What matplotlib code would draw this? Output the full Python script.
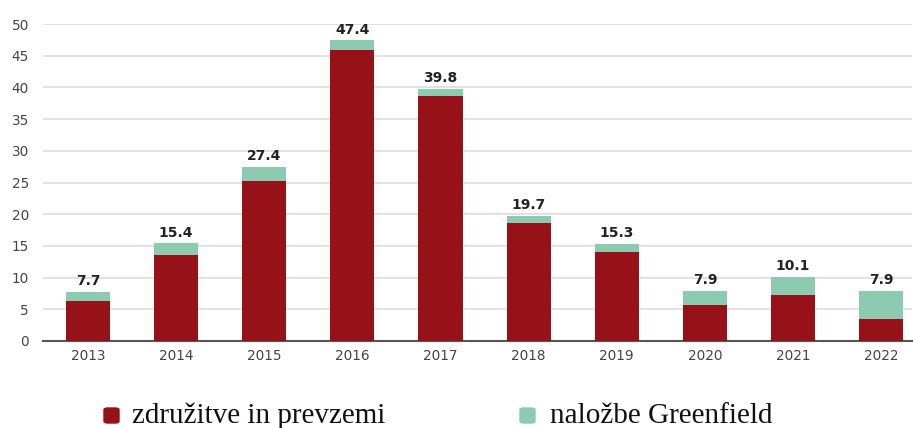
import numpy as np
import matplotlib
matplotlib.use("Agg")
import matplotlib.pyplot as plt
from matplotlib.patches import FancyBboxPatch

years = ["2013", "2014", "2015", "2016", "2017", "2018", "2019", "2020", "2021", "2022"]
totals = [7.7, 15.4, 27.4, 47.4, 39.8, 19.7, 15.3, 7.9, 10.1, 7.9]
mna = [6.3, 13.5, 25.3, 45.9, 38.7, 18.6, 14.1, 5.7, 7.2, 3.4]
greenfield = [round(t - m, 1) for t, m in zip(totals, mna)]

red = "#961218"
green = "#8ccbaf"

fig = plt.figure(figsize=(9.13, 4.28), dpi=100)
ax = fig.add_axes([43 / 913, 1 - 341 / 428, (912 - 43) / 913, (341 - 24) / 428])

x = np.arange(len(years))
ax.bar(x, mna, width=0.5, color=red, zorder=3)
ax.bar(x, greenfield, width=0.5, bottom=mna, color=green, zorder=3)

for xi, t in zip(x, totals):
    ax.text(xi, t + 0.6, f"{t:.1f}", ha="center", va="bottom",
            fontsize=10, fontweight="bold", color="#222222")

ax.set_xlim(-0.51, 9.35)
ax.set_ylim(0, 50)
ax.set_yticks(range(0, 51, 5))
ax.set_xticks(x)
ax.set_xticklabels(years)
ax.yaxis.grid(True, color="#dddddd", linewidth=1.2, zorder=0)
ax.tick_params(axis="both", length=0, labelsize=9.8, labelcolor="#444444")
ax.tick_params(axis="y", pad=10)
ax.tick_params(axis="x", pad=6)
for s in ["top", "right", "left"]:
    ax.spines[s].set_visible(False)
ax.spines["bottom"].set_color("#555555")
ax.spines["bottom"].set_linewidth(1.5)

# legend below the chart
for lx, tx, col, label in [(104, 132, red, "združitve in prevzemi"),
                           (520, 550, green, "naložbe Greenfield")]:
    fig.patches.append(FancyBboxPatch((lx / 913, 1 - 423 / 428), 15 / 913, 15 / 428,
                                      boxstyle="round,pad=0,rounding_size=0.004",
                                      transform=fig.transFigure, color=col))
    fig.text(tx / 913, 1 - 423 / 428, label, fontsize=21,
             family="Liberation Serif", va="baseline", ha="left", color="#111111")

fig.savefig("out.png", dpi=100)
